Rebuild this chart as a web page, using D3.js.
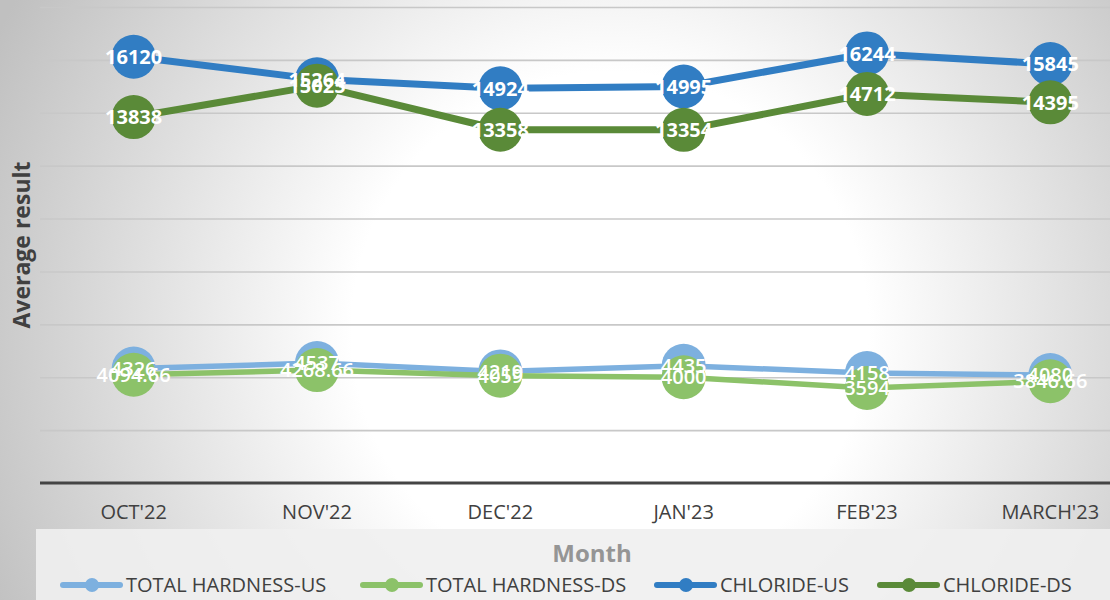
<!DOCTYPE html>
<html>
<head>
<meta charset="utf-8">
<script src="https://cdn.jsdelivr.net/npm/d3@7/dist/d3.min.js"></script>
<style>
  html, body { margin: 0; padding: 0; background: #fff; }
  svg { display: block; }
</style>
</head>
<body>
<svg id="chart" width="1110" height="600"></svg>
<script>
// Monthly averages, upstream (US) and downstream (DS)
const months = ["OCT'22", "NOV'22", "DEC'22", "JAN'23", "FEB'23", "MARCH'23"];
const hardnessUS = [4326, 4537, 4219, 4435, 4158, 4080];
const hardnessDS = [4094.66, 4268.66, 4059, 4000, 3594, 3846.66];
const chlorideUS = [16120, 15264, 14924, 14995, 16244, 15845];
const chlorideDS = [13838, 15025, 13358, 13354, 14712, 14395];
const seriesNames = ["TOTAL HARDNESS-US", "TOTAL HARDNESS-DS", "CHLORIDE-US", "CHLORIDE-DS"];
const yTicks = [0, 2000, 4000, 6000, 8000, 10000, 12000, 14000, 16000, 18000];

const series = [
  { name: seriesNames[0], values: hardnessUS, color: "#7DB0DF", width: 5.5, bold: false },
  { name: seriesNames[1], values: hardnessDS, color: "#8CC269", width: 5.5, bold: false },
  { name: seriesNames[2], values: chlorideUS, color: "#317DC3", width: 7, bold: true },
  { name: seriesNames[3], values: chlorideDS, color: "#5A8A38", width: 7, bold: true }
];

const svg = d3.select("#chart");
const W = 1110, H = 600;
const font = "Open Sans, Noto Sans, sans-serif";

// soft radial background
const defs = svg.append("defs");
const bg = defs.append("radialGradient").attr("id", "bg")
  .attr("gradientUnits", "userSpaceOnUse")
  .attr("cx", 610).attr("cy", 330).attr("r", 680);
bg.append("stop").attr("offset", 0).attr("stop-color", "#ffffff");
bg.append("stop").attr("offset", 0.38).attr("stop-color", "#ffffff");
bg.append("stop").attr("offset", 1).attr("stop-color", "#c0c0c0");
svg.append("rect").attr("width", W).attr("height", H).attr("fill", "url(#bg)");

const plot = { left: 42, right: 1142, top: 7, bottom: 483 };

const x = d3.scaleBand().domain(months).range([plot.left, plot.right]);
const cx = m => x(m) + x.bandwidth() / 2;
const y = d3.scaleLinear().domain([0, 18000]).range([plot.bottom, plot.top]);

// horizontal gridlines
const grid = d3.axisLeft(y).tickValues(yTicks.slice(1)).tickSize(-(W - 40)).tickFormat("");
svg.append("g").attr("transform", "translate(40,0)").call(grid)
  .call(g => g.select(".domain").remove())
  .call(g => g.selectAll(".tick line").attr("stroke", "#c8c8c8").attr("stroke-width", 1.6));

// category axis
const xAxis = svg.append("g").attr("transform", `translate(0,${plot.bottom})`)
  .call(d3.axisBottom(x).tickSize(0).tickPadding(22));
xAxis.select(".domain").remove();
xAxis.append("line").attr("x1", 40).attr("x2", W).attr("y1", 0).attr("y2", 0)
  .attr("stroke", "#444").attr("stroke-width", 3);
xAxis.selectAll(".tick text")
  .attr("font-family", font).attr("font-size", 20).attr("fill", "#404040");

// y axis title
svg.append("text")
  .attr("transform", "translate(30,245) rotate(-90)")
  .attr("text-anchor", "middle")
  .attr("font-family", font).attr("font-size", 23).attr("font-weight", "bold")
  .attr("fill", "#404040")
  .text("Average result");

// legend panel
svg.append("rect").attr("x", 36).attr("y", 529).attr("width", W - 36).attr("height", 71)
  .attr("fill", "#f0f0f0").attr("opacity", 0.9);
svg.append("text").attr("x", 592).attr("y", 562).attr("text-anchor", "middle")
  .attr("font-family", font).attr("font-size", 24).attr("font-weight", "bold")
  .attr("fill", "#959595").text("Month");

// series: line then markers
const line = d3.line().x((d, i) => cx(months[i])).y(d => y(d));
series.forEach(s => {
  const g = svg.append("g");
  g.append("path").datum(s.values).attr("d", line)
    .attr("fill", "none").attr("stroke", s.color).attr("stroke-width", s.width)
    .attr("stroke-linejoin", "round").attr("stroke-linecap", "round");
  g.selectAll("circle").data(s.values).join("circle")
    .attr("cx", (d, i) => cx(months[i])).attr("cy", d => y(d)).attr("r", 22)
    .attr("fill", s.color);
});

// value labels on top
series.forEach(s => {
  svg.append("g").selectAll("text").data(s.values).join("text")
    .attr("x", (d, i) => cx(months[i])).attr("y", d => y(d))
    .attr("dy", "0.36em").attr("text-anchor", "middle")
    .attr("font-family", font).attr("font-size", 20)
    .attr("font-weight", s.bold ? "bold" : "600")
    .attr("fill", "#ffffff")
    .text(d => d);
});

// legend entries
const legendX = [63, 363, 657, 880];
const legend = svg.append("g");
series.forEach((s, i) => {
  const lg = legend.append("g").attr("transform", `translate(${legendX[i]},585)`);
  lg.append("line").attr("x1", 0).attr("x2", 57).attr("y1", 0).attr("y2", 0)
    .attr("stroke", s.color).attr("stroke-width", 6).attr("stroke-linecap", "round");
  lg.append("circle").attr("cx", 29).attr("cy", 0).attr("r", 7).attr("fill", s.color);
  lg.append("text").attr("x", 63).attr("y", 0).attr("dy", "0.36em")
    .attr("font-family", font).attr("font-size", 20).attr("fill", "#404040")
    .text(s.name);
});
</script>
</body>
</html>
